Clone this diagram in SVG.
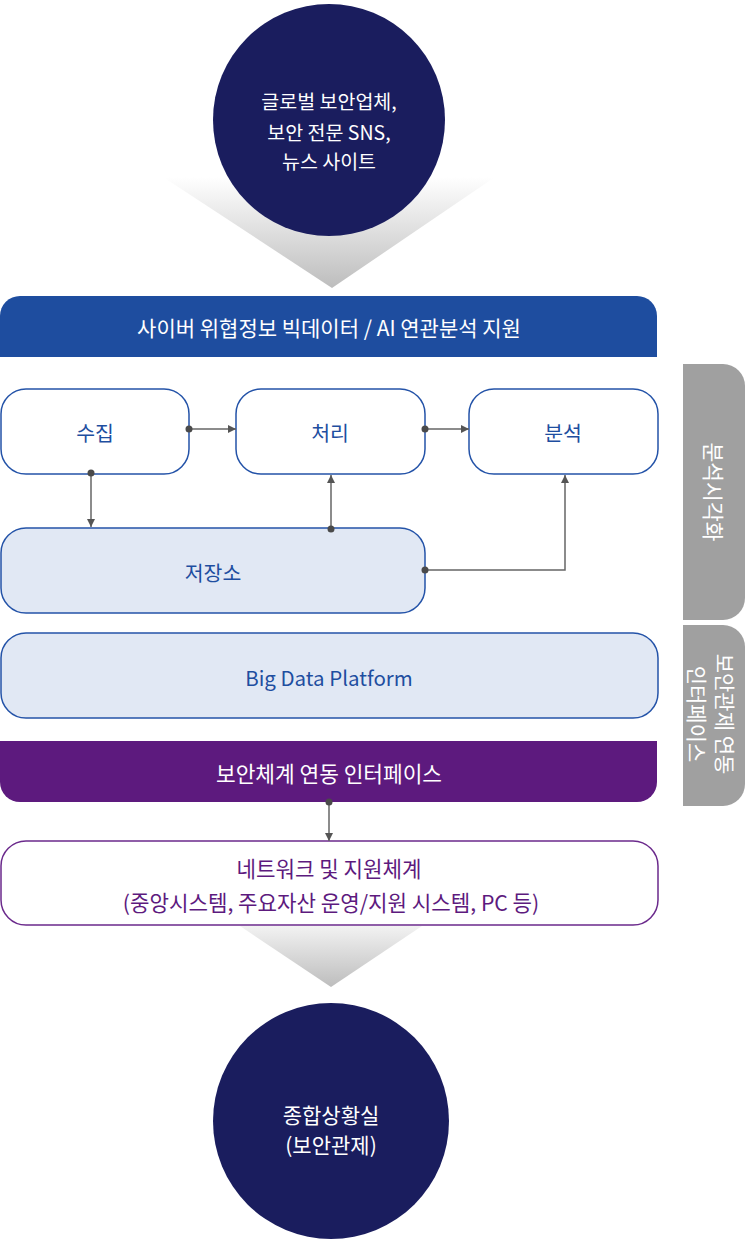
<svg xmlns="http://www.w3.org/2000/svg" width="745" height="1239" viewBox="0 0 745 1239">
<defs>
<linearGradient id="gTop" x1="0" y1="0" x2="0" y2="1">
<stop offset="0" stop-color="#ffffff"/>
<stop offset="1" stop-color="#bdbdbd"/>
</linearGradient>
<linearGradient id="gBot" x1="0" y1="0" x2="0" y2="1">
<stop offset="0" stop-color="#f2f2f2"/>
<stop offset="1" stop-color="#bdbdbd"/>
</linearGradient>
<marker id="ah" viewBox="0 0 10 10" refX="10" refY="5" markerWidth="8" markerHeight="8" markerUnits="userSpaceOnUse" orient="auto">
<path d="M0,0 L10,5 L0,10 Z" fill="#555"/>
</marker>
<style>
text{font-family:"Noto Sans CJK KR","Noto Sans",sans-serif;text-anchor:middle;dominant-baseline:central}
.w{fill:#fff;font-size:21px}
.wt{fill:#fff;font-size:19.5px}
.b{fill:#1e4ea0;font-size:20.5px}
.p{fill:#5d1a7e;font-size:21.2px}
.box{fill:#fff;stroke:#2453a8;stroke-width:1.5}
.box2{fill:#e1e8f4;stroke:#2453a8;stroke-width:1.5}
.circ{fill:#1a1d5e}
.side{fill:#a0a0a0}
.c{fill:none;stroke:#666;stroke-width:1.5}
.dot{fill:#4a4a4a}
</style>
</defs>

<g id="src">
<polygon points="163,177 495,177 332,288" fill="url(#gTop)"/>
<circle class="circ" cx="329" cy="120" r="116"/>
<text class="wt" x="329" y="100">글로벌 보안업체,</text>
<text class="wt" x="329" y="131">보안 전문 SNS,</text>
<text class="wt" x="329" y="160">뉴스 사이트</text>
</g>

<g id="header">
<path d="M0,316 A20,20 0 0 1 20,296 H637 A20,20 0 0 1 657,316 V357 H0 Z" fill="#1e4d9f"/>
<text class="w" x="329" y="327">사이버 위협정보 빅데이터 / AI 연관분석 지원</text>
</g>

<g id="collect">
<rect class="box" x="1" y="389" width="188" height="85" rx="25"/>
<text class="b" x="95" y="432">수집</text>
</g>
<g id="process">
<rect class="box" x="236" y="389" width="189" height="85" rx="25"/>
<text class="b" x="330" y="432">처리</text>
</g>
<g id="analyze">
<rect class="box" x="469" y="389" width="189" height="85" rx="25"/>
<text class="b" x="563" y="432">분석</text>
</g>
<g id="storage">
<rect class="box2" x="1" y="528" width="424" height="85" rx="25"/>
<text class="b" x="213" y="572">저장소</text>
</g>
<g id="platform">
<rect class="box2" x="1" y="633" width="657" height="85" rx="25"/>
<text class="b" x="329" y="677">Big Data Platform</text>
</g>

<g id="interface">
<path d="M0,741 H657 V782 A20,20 0 0 1 637,802 H20 A20,20 0 0 1 0,782 Z" fill="#5d1a7e"/>
<text class="w" x="329" y="772" style="font-size:21.4px">보안체계 연동 인터페이스</text>
</g>

<g id="network">
<rect x="1" y="841" width="657" height="84" rx="25" fill="#fff" stroke="#6b2a8c" stroke-width="1.5"/>
<text class="p" x="329" y="867">네트워크 및 지원체계</text>
<text class="p" x="331" y="901">(중앙시스템, 주요자산 운영/지원 시스템, PC 등)</text>
</g>

<g id="soc">
<polygon points="240,926 422,926 331,987" fill="url(#gBot)"/>
<circle class="circ" cx="331" cy="1121" r="118"/>
<text class="w" x="331" y="1114">종합상황실</text>
<text class="w" x="331" y="1144">(보안관제)</text>
</g>

<g id="side-viz">
<path class="side" d="M683,364 H723 A22,22 0 0 1 745,386 V598 A22,22 0 0 1 723,620 H683 Z"/>
<text class="w" x="714" y="492" transform="rotate(90 714 492)" style="font-size:21.5px">분석시각화</text>
</g>
<g id="side-if">
<path class="side" d="M683,625 H723 A22,22 0 0 1 745,647 V784 A22,22 0 0 1 723,806 H683 Z"/>
<text class="w" x="726" y="714" transform="rotate(90 726 714)">보안관제 연동</text>
<text class="w" x="698" y="714" transform="rotate(90 698 714)">인터페이스</text>
</g>

<g id="connectors">
<path class="c" d="M189,429 H236" marker-end="url(#ah)"/>
<circle class="dot" cx="189" cy="429" r="3.5"/>
<path class="c" d="M425,429 H469" marker-end="url(#ah)"/>
<circle class="dot" cx="425" cy="429" r="3.5"/>
<path class="c" d="M91,473 V527" marker-end="url(#ah)"/>
<circle class="dot" cx="91" cy="473" r="3.5"/>
<path class="c" d="M331,529 V475" marker-end="url(#ah)"/>
<circle class="dot" cx="331" cy="529" r="3.5"/>
<path class="c" d="M425,570 H565 V475" marker-end="url(#ah)"/>
<circle class="dot" cx="425" cy="570" r="3.5"/>
<path class="c" d="M329,802 V841" marker-end="url(#ah)"/>
<circle class="dot" cx="329" cy="802" r="3.5"/>
</g>
</svg>
